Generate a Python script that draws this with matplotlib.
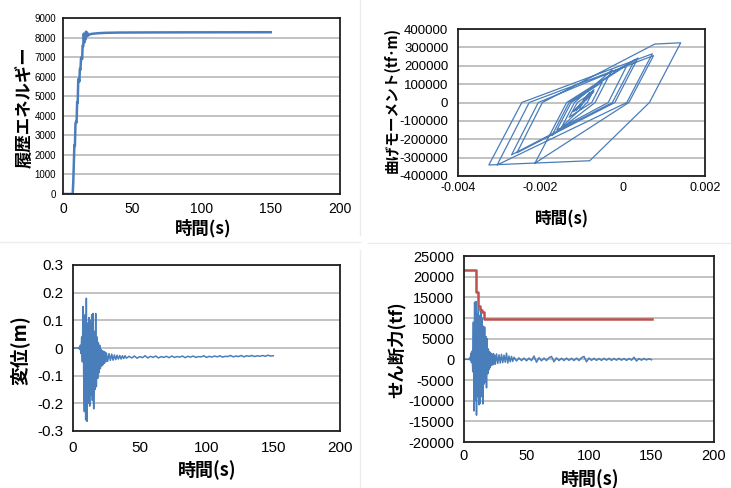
import numpy as np
import matplotlib
matplotlib.use("Agg")
import matplotlib.pyplot as plt
from matplotlib.lines import Line2D

plt.rcParams['axes.unicode_minus'] = False
plt.rcParams['font.family'] = ['Liberation Sans', 'DejaVu Sans']
JP = ['Noto Sans CJK JP', 'DejaVu Sans']

BLUE = '#4a7ebb'
RED = '#c0504d'
GRID = '#bdbdbd'

# ---- panel 1: hysteresis energy ----
t_energy = [0, 7.0, 7.4, 7.8, 8.2, 8.6, 9.0, 9.4, 9.8, 10.2, 10.6, 11.0, 11.4, 11.8,
            12.2, 12.6, 13.0, 13.4, 13.8, 14.2, 14.6, 15.0, 15.4, 15.8, 16.2, 16.6,
            17.0, 17.5, 18.0, 19, 20, 22, 25, 30, 40, 60, 80, 100, 120, 150]
energy = [0, 0, 600, 1500, 2500, 2450, 3600, 3700, 3650, 4700, 4650, 5800, 5900,
          5750, 6400, 6350, 6950, 7000, 6900, 7600, 7550, 8200, 7750, 8150, 7900,
          8300, 8050, 8250, 8100, 8150, 8180, 8200, 8220, 8240, 8255, 8262, 8266,
          8268, 8270, 8272]

# ---- panel 2: moment - rotation loops ----
rot = [-0.95, -0.85, -1.05, -0.80, -1.12, -0.72, -1.20, -0.78, -1.15, -0.75, -1.05, -0.70,
       -0.86, -1.48, -1.17, -0.26, -0.67, -1.72, -1.30, 0.37, -0.19, -2.57, -1.95,
       0.78, 1.41, 0.65, -0.80, -3.25, -2.45, 0.72, 0.10, -3.05, -2.27, 0.75, 0.15,
       -2.13, -1.36, 0.30, -0.25, -2.70, -2.05, 0.10, -0.35, -1.60, -1.25, -0.50,
       -0.75, -1.30, -1.10, -0.70, -0.90]
moment = [0, 40, -30, 55, -40, 65, -50, 50, -45, 60, -20, 70,
          0, -133, 0, 177, 0, -180, 0, 242, 0, -274, 0,
          318, 325, 0, -317, -340, 0, 265, 0, -340, 0, 255, 0,
          -330, 0, 235, 0, -285, 0, 200, 0, -150, 0, 110,
          0, -80, 0, 60, 10]

# ---- panel 3: displacement ----
t_main = np.arange(4.0, 25.01, 0.5)
disp_main = [0, 0.002, -0.005, 0.01, -0.02, 0.04, -0.05, 0.15, -0.10, -0.23, 0.12,
             -0.26, 0.18, -0.265, 0.09, -0.20, 0.11, -0.21, 0.10, -0.17, 0.12, -0.19,
             0.125, -0.22, 0.06, -0.15, 0.125, -0.14, 0.04, -0.11, 0.02, -0.09, 0.01,
             -0.075, -0.005, -0.065, -0.01, -0.06, -0.012, -0.055, -0.015, -0.05, -0.018]
t_mid = np.arange(26, 41, 1)
disp_mid = [-0.048, -0.02, -0.045, -0.022, -0.044, -0.025, -0.042, -0.026, -0.04,
            -0.027, -0.04, -0.028, -0.038, -0.028, -0.037]
t_tail = np.arange(42, 151, 2)
disp_tail = [-0.030, -0.036, -0.029, -0.037, -0.031, -0.035, -0.028, -0.036, -0.030, -0.034,
             -0.029, -0.036, -0.031, -0.034, -0.030, -0.035, -0.029, -0.034, -0.031, -0.033,
             -0.029, -0.035, -0.030, -0.033, -0.029, -0.034, -0.031, -0.032, -0.028, -0.034,
             -0.030, -0.033, -0.029, -0.032, -0.028, -0.033, -0.030, -0.031, -0.027, -0.032,
             -0.029, -0.031, -0.027, -0.032, -0.028, -0.030, -0.027, -0.031, -0.028, -0.030,
             -0.027, -0.030, -0.026, -0.029, -0.028]

# ---- panel 4: shear force ----
shear_main = [0, 300, -200, 1500, -800, 2000, -3000, 9000, -12500, 13800, -10000, 14000,
              -13500, 11000, -9000, 12600, -11000, 10500, -10700, 12200, -9000, 10000,
              -10800, 8000, -6000, 7800, -5500, 5500, -6900, 5000, -3500, 2500, -2500,
              1800, -2000, 1500, -1500, 1200, -1300, 1400, -1100, 1000, -1200]
shear_mid = [1300, -1000, 1100, -900, 1200, -800, 1000, -700, 1500, -900, 800, -600,
             700, -500, 500]
shear_tail = [-400, 350, -300, 300, -350, 300, -300, 800, -700, 400,
              -350, 300, -300, 400, 700, -600, 350, -300, 250, -300,
              300, -250, 250, -300, 300, -300, 400, 700, -600, 300,
              -250, 250, -250, 200, -250, 250, -200, 250, -250, 200,
              -200, 250, -200, 200, -250, 200, -200, 500, -400, 200,
              -200, 200, -150, 150, -100]
t_cap = [0, 9.4, 11.5, 13.0, 14.5, 15.8, 150]
capacity = [21500, 16200, 12800, 12000, 11500, 9800, 9800]

W, H = 731, 488
fig = plt.figure(figsize=(W / 100, H / 100), dpi=100)


def rect(l, r, t, b):
    return [l / W, (H - b) / H, (r - l) / W, (b - t) / H]


def style(ax, ypad, xpad, yfs, xfs):
    for s in ax.spines.values():
        s.set_color('#202020')
        s.set_linewidth(1.3)
    ax.grid(axis='y', color=GRID, linewidth=1.3)
    ax.set_axisbelow(True)
    ax.tick_params(length=0)
    ax.tick_params(axis='y', pad=ypad, labelsize=yfs)
    ax.tick_params(axis='x', pad=xpad, labelsize=xfs)


def jtext(x, y, s, size, rot=0):
    fig.text(x / W, 1 - y / H, s, family=JP, weight='bold', fontsize=size,
             rotation=rot, ha='center', va='center')


# panel 1
ax1 = fig.add_axes(rect(63, 340, 18, 194))
ax1.plot(t_energy, energy, color=BLUE, lw=1.8)
ax1.set_xlim(0, 200)
ax1.set_ylim(0, 9000)
ax1.set_xticks([0, 50, 100, 150, 200])
ax1.set_yticks(range(0, 9001, 1000))
style(ax1, 5, 6, 7, 10)
jtext(25, 107, '履歴エネルギー', 12.5, 90)
jtext(203, 228, '時間(s)', 12.5)

# panel 2
ax2 = fig.add_axes(rect(458, 705, 29, 176))
ax2.plot(np.array(rot) * 1e-3, np.array(moment) * 1e3, color=BLUE, lw=0.9)
ax2.set_xlim(-0.004, 0.002)
ax2.set_ylim(-400000, 400000)
ax2.set_xticks([-0.004, -0.002, 0, 0.002])
ax2.set_xticklabels(['-0.004', '-0.002', '0', '0.002'])
ax2.set_yticks(range(-400000, 400001, 100000))
style(ax2, 7, 4, 9.5, 9)
jtext(392, 100, '曲げモーメント(tf･m)', 10.5, 90)
jtext(562, 219, '時間(s)', 12)

# panel 3
ax3 = fig.add_axes(rect(73, 340, 265, 431))
t_disp = np.concatenate([[0], t_main, t_mid, t_tail])
disp = np.concatenate([[0], disp_main, disp_mid, disp_tail])
ax3.plot(t_disp, disp, color=BLUE, lw=1.1)
ax3.set_xlim(0, 200)
ax3.set_ylim(-0.3, 0.3)
ax3.set_xticks([0, 50, 100, 150, 200])
ax3.set_yticks([-0.3, -0.2, -0.1, 0, 0.1, 0.2, 0.3])
ax3.set_yticklabels(['-0.3', '-0.2', '-0.1', '0', '0.1', '0.2', '0.3'])
style(ax3, 7, 7, 11, 11)
jtext(20, 350, '変位(m)', 13.5, 90)
jtext(207, 470, '時間(s)', 13)

# panel 4
ax4 = fig.add_axes(rect(464, 714, 256, 442))
t_shear = np.concatenate([[0], t_main, t_mid, t_tail])
shear = np.concatenate([[0], shear_main, shear_mid, shear_tail])
ax4.plot(t_shear, shear, color=BLUE, lw=1.1)
ax4.plot(t_cap, capacity, color=RED, lw=1.8, drawstyle='steps-post')
ax4.set_xlim(0, 200)
ax4.set_ylim(-20000, 25000)
ax4.set_xticks([0, 50, 100, 150, 200])
ax4.set_yticks(range(-20000, 25001, 5000))
style(ax4, 7, 5, 10.5, 10.5)
jtext(397, 350, 'せん断力(tf)', 12.5, 90)
jtext(590, 479, '時間(s)', 13)

# faint panel separators
for xs, ys in [([360 / W, 360 / W], [1, 1 - 235 / H]),
               ([0, 360 / W], [1 - 242 / H, 1 - 242 / H]),
               ([368 / W, 1], [1 - 243 / H, 1 - 243 / H]),
               ([360 / W, 360 / W], [1 - 250 / H, 0])]:
    fig.add_artist(Line2D(xs, ys, color='#ececec', lw=1))

fig.savefig('out.png', dpi=100, facecolor='white')
